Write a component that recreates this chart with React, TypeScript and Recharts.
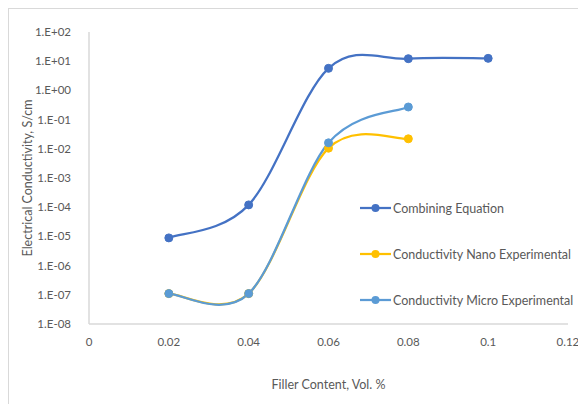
import { LineChart, Line, XAxis, YAxis, Label } from 'recharts'

const fillerContent = [0.02, 0.04, 0.06, 0.08, 0.1]
const combiningEquation = [8.9e-6, 1.2e-4, 5.7, 12.2, 12.5]
const nanoExperimental = [1.1e-7, 1.1e-7, 1.05e-2, 2.2e-2, null]
const microExperimental = [1.1e-7, 1.1e-7, 1.6e-2, 2.7e-1, null]

const xTicks = [0, 0.02, 0.04, 0.06, 0.08, 0.1, 0.12]
const yTicks = [1e-8, 1e-7, 1e-6, 1e-5, 1e-4, 1e-3, 1e-2, 1e-1, 1e0, 1e1, 1e2]

const SERIES = [
  { key: 'combining', name: 'Combining Equation', color: '#4472C4' },
  { key: 'nano', name: 'Conductivity Nano Experimental', color: '#FFC000' },
  { key: 'micro', name: 'Conductivity Micro Experimental', color: '#5B9BD5' },
]

const data = fillerContent.map((x, i) => ({
  x,
  combining: combiningEquation[i],
  nano: nanoExperimental[i],
  micro: microExperimental[i],
}))

const FONT = 'Lato, "Open Sans", sans-serif'
const GREY = '#595959'

// excel-style smoothed line (catmull-rom through the points)
const excelSmooth = (ctx: any) => {
  let pts: number[][] = []
  return {
    areaStart() {},
    areaEnd() {},
    lineStart() { pts = [] },
    point(x: number, y: number) { pts.push([+x, +y]) },
    lineEnd() {
      if (!pts.length) return
      ctx.moveTo(pts[0][0], pts[0][1])
      for (let i = 0; i < pts.length - 1; i++) {
        const p0 = pts[Math.max(i - 1, 0)]
        const p1 = pts[i]
        const p2 = pts[i + 1]
        const p3 = pts[Math.min(i + 2, pts.length - 1)]
        ctx.bezierCurveTo(
          p1[0] + (p2[0] - p0[0]) / 6, p1[1] + (p2[1] - p0[1]) / 6,
          p2[0] - (p3[0] - p1[0]) / 6, p2[1] - (p3[1] - p1[1]) / 6,
          p2[0], p2[1],
        )
      }
    },
  }
}

const fmtExp = (v: number) => {
  const e = Math.round(Math.log10(v))
  return `1.E${e < 0 ? '-' : '+'}${String(Math.abs(e)).padStart(2, '0')}`
}

export default function App() {
  return (
    <div style={{ position: 'fixed', left: 0, top: 0, width: 578, height: 404, overflow: 'hidden', background: '#fff' }}>
      <div style={{ position: 'absolute', left: 8, top: 8, width: 570, height: 396, borderTop: '1px solid #d9d9d9', borderLeft: '1px solid #d9d9d9', fontFamily: FONT }}>
        <LineChart width={569} height={395} data={data} margin={{ top: 23, right: 10, bottom: 50, left: 20 }}>
          <XAxis
            dataKey="x"
            type="number"
            domain={[0, 0.12]}
            ticks={xTicks}
            tickLine={false}
            axisLine={{ stroke: '#d9d9d9', strokeWidth: 1.5 }}
            tick={{ fontSize: 11.5, fill: GREY, fontFamily: FONT }}
            tickMargin={8}
            height={30}
          >
            <Label value="Filler Content, Vol. %" position="bottom" offset={26} style={{ fontSize: 12.5, fill: GREY, fontFamily: FONT }} />
          </XAxis>
          <YAxis
            scale="log"
            domain={[1e-8, 1e2]}
            ticks={yTicks}
            allowDataOverflow
            tickFormatter={fmtExp}
            tickLine={false}
            axisLine={{ stroke: '#d9d9d9', strokeWidth: 1.5 }}
            tick={{ fontSize: 11.5, fill: GREY, fontFamily: FONT }}
            tickMargin={12}
            width={60}
          >
            <Label value="Electrical Conductivity, S/cm" angle={-90} position="insideLeft" offset={-1} style={{ fontSize: 12.5, fill: GREY, fontFamily: FONT, textAnchor: 'middle' }} />
          </YAxis>
          {SERIES.map(s => (
            <Line
              key={s.key}
              dataKey={s.key}
              name={s.name}
              type={excelSmooth as any}
              stroke={s.color}
              strokeWidth={2.25}
              dot={{ r: 4, fill: s.color, stroke: s.color, strokeWidth: 1 }}
              activeDot={false}
              isAnimationActive={false}
            />
          ))}
        </LineChart>
        <div style={{ position: 'absolute', left: 351, top: 176 }}>
          {SERIES.map(s => (
            <div key={s.key} style={{ display: 'flex', alignItems: 'center', height: 46, fontSize: 12.5, color: GREY, whiteSpace: 'nowrap' }}>
              <svg width={31} height={10} style={{ marginRight: 2 }}>
                <line x1={0} y1={5} x2={31} y2={5} stroke={s.color} strokeWidth={2.25} />
                <circle cx={15.5} cy={5} r={4} fill={s.color} />
              </svg>
              {s.name}
            </div>
          ))}
        </div>
      </div>
    </div>
  )
}
